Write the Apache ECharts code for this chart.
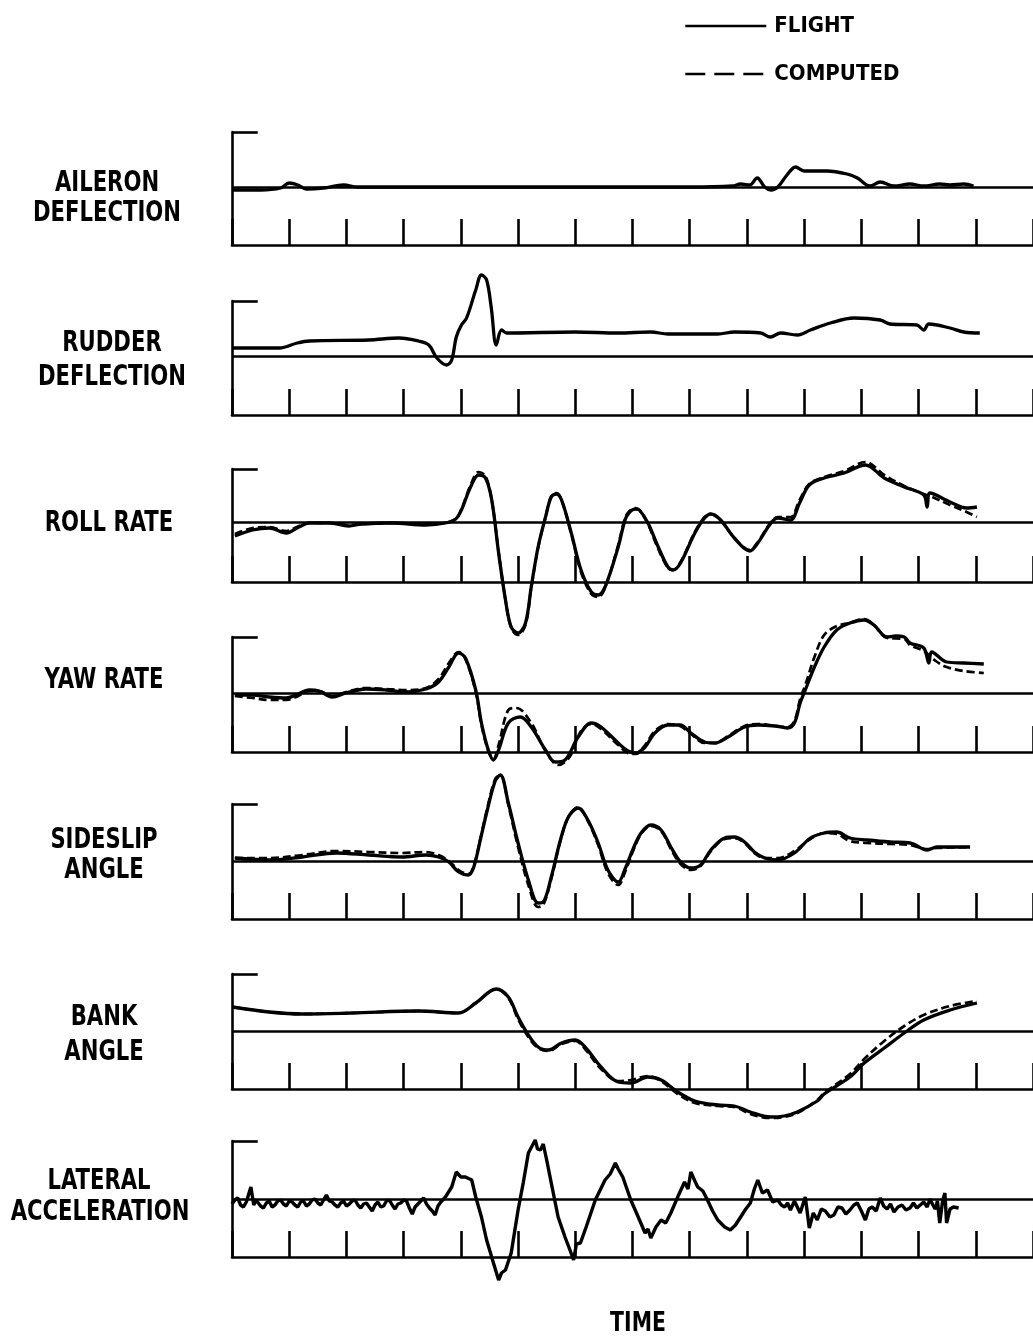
<!DOCTYPE html>
<html><head><meta charset="utf-8">
<script src="https://cdn.jsdelivr.net/npm/echarts@6/dist/echarts.min.js"></script>
<style>html,body{margin:0;padding:0;background:#fff}#c{width:1033px;height:1342px}</style>
</head><body><div id="c"></div>
<script>
// ---------------- DATA (time in tick units, value in plot units; 0 = trim line) ----------------
const panelLabels = [
  ['AILERON', 'DEFLECTION'],
  ['RUDDER', 'DEFLECTION'],
  ['ROLL RATE'],
  ['YAW RATE'],
  ['SIDESLIP', 'ANGLE'],
  ['BANK', 'ANGLE'],
  ['LATERAL', 'ACCELERATION']
];
const legendNames = ['FLIGHT', 'COMPUTED'];
const xAxisLabel = 'TIME';
const timeMin = 0, timeMax = 14, timeStep = 1;
const yRanges = [[-58, 55], [-59, 55], [-60, 53], [-59, 56], [-58, 57], [-58, 57], [-58, 58]];

const aileronFlight = [[0,-3],[0.5,-3],[0.85,-1],[1.0,4],[1.15,2],[1.3,-2],[1.6,-1],[1.95,2],[2.2,0],[4,0],[6,0],[8,0],[8.75,1],[8.89,3],[9.05,2],[9.18,9],[9.31,0],[9.42,-3],[9.54,0],[9.7,12],[9.85,20],[10.0,16],[10.4,16],[10.75,13],[10.93,9],[11.15,1],[11.33,5],[11.57,1],[11.85,3],[12.09,1],[12.37,3],[12.55,2],[12.79,3],[12.96,1]];

const rudderFlight = [[0,8],[0.83,8],[1.14,13],[1.35,15],[2.39,16],[2.92,18],[3.26,15],[3.44,11],[3.58,-2],[3.75,-9],[3.84,-4],[3.92,19],[4.01,31],[4.1,38],[4.26,66],[4.36,81],[4.45,76],[4.53,49],[4.62,11],[4.71,26],[4.8,23],[6.0,24],[6.75,23],[7.32,24],[7.62,22],[8.49,22],[8.78,24],[9.24,23],[9.41,19],[9.59,23],[9.88,21],[10.11,26],[10.46,33],[10.87,38],[11.33,36],[11.5,32],[11.97,31],[12.09,26],[12.18,32],[12.55,28],[12.79,24],[13.07,23]];

const rollFlight = [[0.05,-14],[0.36,-8],[0.65,-6],[0.95,-11],[1.17,-5],[1.35,-1],[1.7,-1],[2.04,-4],[2.27,-2],[2.79,-1],[3.39,-3],[3.73,-1],[3.91,3],[4.01,12],[4.17,35],[4.31,47],[4.43,44],[4.54,22],[4.66,-31],[4.78,-78],[4.88,-105],[5.0,-111],[5.13,-101],[5.23,-65],[5.35,-25],[5.48,5],[5.58,25],[5.67,28],[5.76,22],[5.93,-11],[6.1,-48],[6.28,-70],[6.4,-73],[6.52,-65],[6.75,-25],[6.87,2],[6.95,10],[7.05,13],[7.12,12],[7.27,-1],[7.45,-25],[7.62,-45],[7.71,-48],[7.84,-41],[8.09,-11],[8.26,4],[8.37,8],[8.54,2],[8.78,-16],[9.05,-29],[9.19,-21],[9.42,-1],[9.54,4],[9.76,2],[9.92,19],[10.09,37],[10.35,44],[10.7,49],[11.07,57],[11.4,44],[11.75,35],[12.09,27],[12.15,15],[12.2,29],[12.55,20],[12.84,14],[13.02,15]];
const rollComputed = [[0.05,-12],[0.36,-6],[0.65,-5],[0.95,-9],[1.17,-4],[1.35,-1],[1.7,-1],[2.04,-3],[2.27,-2],[2.79,-1],[3.39,-2],[3.73,-1],[3.91,3],[4.01,13],[4.17,37],[4.31,50],[4.43,46],[4.54,22],[4.66,-30],[4.78,-78],[4.88,-106],[5.0,-113],[5.13,-103],[5.23,-66],[5.35,-26],[5.48,5],[5.58,26],[5.67,29],[5.76,22],[5.93,-12],[6.1,-50],[6.28,-72],[6.4,-75],[6.52,-66],[6.75,-23],[6.87,4],[6.95,11],[7.05,14],[7.12,12],[7.27,-2],[7.45,-27],[7.62,-46],[7.71,-48],[7.84,-40],[8.09,-10],[8.26,5],[8.37,8],[8.54,2],[8.78,-16],[9.05,-28],[9.19,-20],[9.42,0],[9.54,5],[9.76,5],[9.92,22],[10.09,38],[10.35,45],[10.7,51],[11.07,60],[11.4,47],[11.75,36],[12.09,28],[12.2,26],[12.55,17],[12.84,10],[13.02,5]];

const yawFlight = [[0.05,-2],[0.36,-2],[0.65,-4],[0.95,-5],[1.12,-2],[1.35,3],[1.52,2],[1.75,-4],[1.99,0],[2.34,4],[2.69,3],[3.04,1],[3.39,4],[3.61,11],[3.79,26],[3.96,40],[4.08,35],[4.26,3],[4.36,-30],[4.48,-57],[4.57,-67],[4.66,-57],[4.83,-30],[5.04,-24],[5.23,-34],[5.48,-57],[5.65,-69],[5.82,-67],[6.05,-44],[6.28,-30],[6.45,-34],[6.75,-50],[6.92,-58],[7.06,-60],[7.22,-54],[7.39,-40],[7.62,-32],[7.83,-32],[8.02,-40],[8.26,-49],[8.44,-50],[8.67,-44],[8.96,-34],[9.19,-32],[9.49,-33],[9.71,-35],[9.83,-30],[9.93,-10],[10.02,3],[10.18,26],[10.35,46],[10.57,63],[10.8,70],[11.05,73],[11.22,68],[11.45,56],[11.6,57],[11.75,56],[11.85,50],[12.09,45],[12.18,30],[12.23,41],[12.49,31],[12.79,30],[13.14,29]];
const yawComputed = [[0.05,-3],[0.36,-5],[0.65,-7],[0.95,-7],[1.12,-4],[1.35,2],[1.52,2],[1.75,-3],[1.99,1],[2.34,5],[2.69,4],[3.04,3],[3.39,5],[3.61,14],[3.79,30],[3.96,41],[4.08,34],[4.26,1],[4.36,-32],[4.48,-58],[4.57,-66],[4.66,-52],[4.83,-17],[4.97,-15],[5.23,-30],[5.48,-58],[5.7,-72],[5.9,-64],[6.1,-38],[6.28,-31],[6.45,-36],[6.75,-52],[6.92,-60],[7.06,-61],[7.22,-52],[7.39,-38],[7.62,-31],[7.83,-33],[8.02,-41],[8.26,-50],[8.44,-50],[8.67,-43],[8.96,-33],[9.19,-31],[9.49,-33],[9.71,-34],[9.83,-28],[9.93,-6],[10.02,8],[10.18,36],[10.35,58],[10.57,67],[10.8,70],[11.05,74],[11.22,68],[11.45,55],[11.75,54],[11.85,48],[12.09,42],[12.3,32],[12.49,26],[12.79,22],[13.14,20]];

const sideslipFlight = [[0.05,3],[0.65,1],[1.23,4],[1.82,8],[2.39,6],[2.97,4],[3.39,6],[3.61,4],[3.79,-1],[3.96,-11],[4.13,-14],[4.22,-7],[4.34,21],[4.45,48],[4.6,80],[4.69,86],[4.83,58],[5.0,18],[5.18,-19],[5.35,-42],[5.44,-41],[5.58,-16],[5.74,21],[5.88,44],[6.05,53],[6.22,41],[6.4,18],[6.57,-9],[6.75,-21],[6.87,-8],[7.01,12],[7.15,28],[7.32,36],[7.5,31],[7.67,14],[7.84,-1],[8.02,-7],[8.19,-4],[8.37,11],[8.61,23],[8.78,24],[8.96,19],[9.13,9],[9.31,3],[9.54,1],[9.83,8],[10.11,23],[10.35,28],[10.57,29],[10.8,23],[11.1,21],[11.5,19],[11.85,18],[12.15,11],[12.32,14],[12.9,14]];
const sideslipComputed = [[0.05,3],[0.65,3],[1.23,6],[1.82,10],[2.39,9],[2.97,8],[3.39,9],[3.61,6],[3.79,0],[3.96,-9],[4.13,-13],[4.22,-6],[4.34,22],[4.45,50],[4.6,82],[4.69,86],[4.83,56],[5.0,14],[5.18,-24],[5.35,-46],[5.44,-44],[5.58,-18],[5.74,20],[5.88,44],[6.05,54],[6.22,40],[6.4,16],[6.57,-12],[6.75,-24],[6.87,-11],[7.01,10],[7.15,27],[7.32,35],[7.5,30],[7.67,12],[7.84,-3],[8.02,-9],[8.19,-5],[8.37,10],[8.61,22],[8.78,23],[8.96,18],[9.13,8],[9.31,3],[9.54,3],[9.83,10],[10.11,22],[10.35,28],[10.57,27],[10.8,20],[11.1,18],[11.5,17],[11.85,16],[12.15,12],[12.32,13],[12.9,14]];

const bankFlight = [[0.01,24],[0.65,19],[1.23,17],[2.1,18],[3.26,20],[3.96,18],[4.26,28],[4.62,42],[4.83,34],[5.0,14],[5.18,-4],[5.35,-16],[5.53,-19],[5.76,-12],[6.0,-9],[6.17,-16],[6.45,-36],[6.75,-51],[6.97,-52],[7.27,-46],[7.5,-49],[7.79,-61],[8.09,-70],[8.49,-74],[8.78,-75],[9.06,-81],[9.41,-86],[9.65,-85],[9.88,-81],[10.23,-70],[10.35,-63],[10.8,-46],[11.05,-32],[11.4,-17],[11.75,-2],[12.09,11],[12.55,21],[13.02,28]];
const bankComputed = [[0.01,24],[0.65,19],[1.23,17],[2.1,18],[3.26,20],[3.96,18],[4.26,28],[4.62,42],[4.83,33],[5.0,12],[5.18,-6],[5.35,-17],[5.53,-20],[5.76,-13],[6.0,-10],[6.17,-18],[6.45,-38],[6.75,-50],[6.97,-49],[7.27,-45],[7.5,-50],[7.79,-63],[8.09,-72],[8.49,-75],[8.78,-76],[9.06,-83],[9.41,-87],[9.65,-86],[9.88,-82],[10.23,-69],[10.35,-62],[10.8,-43],[11.05,-28],[11.4,-10],[11.75,5],[12.09,16],[12.55,25],[13.02,30]];

const lateralFlight = [[0,-5],[0.05,-1],[0.1,1],[0.15,-6],[0.2,-8],[0.25,-3],[0.28,-2],[0.33,12],[0.38,-6],[0.42,-1],[0.45,-3],[0.5,-7],[0.55,-9],[0.6,-4],[0.65,-2],[0.7,-8],[0.75,-6],[0.8,-2],[0.85,-1],[0.9,-5],[0.95,-7],[1.0,-2],[1.05,-3],[1.1,-6],[1.15,-8],[1.2,-3],[1.25,-2],[1.3,-7],[1.35,-5],[1.4,-1],[1.45,0],[1.5,-4],[1.55,-6],[1.6,-1],[1.65,4],[1.7,-2],[1.75,-3],[1.8,-6],[1.85,-8],[1.9,-4],[1.95,-2],[2.0,-7],[2.05,-5],[2.1,-2],[2.15,-1],[2.2,-6],[2.25,-9],[2.3,-5],[2.35,-4],[2.4,-8],[2.45,-12],[2.5,-6],[2.55,-3],[2.6,-8],[2.65,-7],[2.7,-2],[2.75,-1],[2.8,-6],[2.85,-10],[2.9,-5],[2.95,-4],[3.0,-1],[3.05,-2],[3.1,-9],[3.15,-15],[3.2,-8],[3.25,-5],[3.3,-2],[3.35,1],[3.4,-5],[3.45,-9],[3.5,-12],[3.55,-16],[3.6,-7],[3.65,-3],[3.73,2],[3.84,12],[3.92,27],[4.0,22],[4.08,22],[4.19,19],[4.26,2],[4.36,-18],[4.45,-41],[4.57,-64],[4.66,-81],[4.71,-74],[4.78,-71],[4.88,-54],[5.0,-11],[5.09,16],[5.18,46],[5.3,59],[5.34,50],[5.39,49],[5.44,55],[5.5,39],[5.58,16],[5.7,-18],[5.82,-38],[5.9,-50],[5.97,-61],[6.02,-45],[6.09,-44],[6.19,-28],[6.35,-1],[6.52,19],[6.61,25],[6.7,36],[6.75,30],[6.83,22],[6.97,-1],[7.1,-18],[7.22,-34],[7.27,-30],[7.32,-39],[7.41,-28],[7.5,-21],[7.58,-24],[7.67,-14],[7.79,2],[7.91,17],[7.97,10],[8.02,27],[8.09,18],[8.14,12],[8.23,8],[8.31,-1],[8.4,-12],[8.49,-21],[8.61,-28],[8.71,-31],[8.8,-26],[8.89,-18],[8.98,-10],[9.06,-4],[9.13,10],[9.19,19],[9.27,6],[9.36,9],[9.45,-3],[9.54,-1],[9.6,-6],[9.66,-8],[9.71,-4],[9.76,-11],[9.83,-2],[9.88,-8],[9.93,-14],[10.02,2],[10.09,-29],[10.16,-14],[10.23,-21],[10.3,-10],[10.37,-12],[10.45,-18],[10.52,-16],[10.59,-8],[10.66,-9],[10.73,-15],[10.8,-11],[10.87,-6],[10.93,-4],[11.0,-12],[11.07,-21],[11.13,-10],[11.19,-8],[11.26,-12],[11.33,1],[11.39,-7],[11.45,-10],[11.51,-5],[11.57,-13],[11.64,-8],[11.71,-6],[11.78,-11],[11.85,-9],[11.91,-4],[11.97,-9],[12.03,-6],[12.09,-3],[12.15,-8],[12.2,0],[12.25,-6],[12.29,-10],[12.33,-2],[12.37,-24],[12.42,-2],[12.46,6],[12.49,-24],[12.55,-10],[12.61,-8],[12.7,-9]];

const flightSeries = [aileronFlight, rudderFlight, rollFlight, yawFlight, sideslipFlight, bankFlight, lateralFlight];
const computedSeries = [null, null, rollComputed, yawComputed, sideslipComputed, bankComputed, null];

// ---------------- LAYOUT ----------------
const gridLeft = 232, gridWidth = 804;
const gridTops = [132, 301, 469, 637, 804, 974, 1141];
const labelLayout = [
  [[107, 184], [107, 214]],
  [[112, 344], [112, 378]],
  [[109, 524]],
  [[104, 681]],
  [[104, 841], [104, 871]],
  [[104, 1018], [104, 1053]],
  [[99, 1182], [100, 1213]]
];
const FONT = "'DejaVu Sans Condensed','Liberation Sans Narrow',sans-serif";
const AX = {color: '#000', width: 2.6};

const grids = [], xAxes = [], yAxes = [], series = [], graphics = [];
flightSeries.forEach((fd, i) => {
  const [ymin, ymax] = yRanges[i];
  grids.push({left: gridLeft, top: gridTops[i], width: gridWidth, height: ymax - ymin});
  xAxes.push({type: 'value', gridIndex: i, min: timeMin, max: timeMax, interval: timeStep,
    axisLine: {show: true, onZero: false, lineStyle: AX},
    axisTick: {show: true, inside: true, length: 26, lineStyle: AX},
    axisLabel: {show: false}, splitLine: {show: false}});
  yAxes.push({type: 'value', gridIndex: i, min: ymin, max: ymax,
    axisLine: {show: true, onZero: false, lineStyle: AX},
    axisTick: {show: false}, axisLabel: {show: false}, splitLine: {show: false}});
  series.push({type: 'line', name: legendNames[0], xAxisIndex: i, yAxisIndex: i, data: fd,
    symbol: 'none', smooth: i === 6 ? false : 0.35, clip: false, silent: true,
    color: '#000', itemStyle: {color: '#000'},
    lineStyle: {color: '#000', width: i === 6 ? 3.4 : 3.3}, z: 3,
    markLine: {silent: true, symbol: ['none', 'none'], label: {show: false},
      lineStyle: {color: '#000', width: 2.6, type: 'solid'},
      emphasis: {disabled: true},
      data: [{yAxis: 0}, [{coord: [timeMin, ymax]}, {coord: [0.45, ymax]}]]}});
  if (computedSeries[i]) {
    series.push({type: 'line', name: legendNames[1], xAxisIndex: i, yAxisIndex: i, data: computedSeries[i],
      symbol: 'none', smooth: 0.35, clip: false, silent: true, z: 4,
      color: '#000', itemStyle: {color: '#000'},
      lineStyle: {color: '#000', width: 2.7, type: [8, 4]}});
  }
  panelLabels[i].forEach((t, j) => {
    graphics.push({type: 'text', silent: true, x: labelLayout[i][j][0], y: labelLayout[i][j][1], scaleX: 0.84,
      style: {text: t, x: 0, y: 0, textAlign: 'center', textVerticalAlign: 'middle', fill: '#000',
      font: 'bold 28px ' + FONT}});
  });
});
graphics.push({type: 'text', silent: true, x: 638, y: 1324, scaleX: 0.84,
  style: {text: xAxisLabel, x: 0, y: 0, textAlign: 'center',
  textVerticalAlign: 'middle', fill: '#000', font: 'bold 27px ' + FONT}});

const chart = echarts.init(document.getElementById('c'), null, {renderer: 'canvas'});
chart.setOption({
  backgroundColor: '#fff',
  animation: false,
  legend: {
    orient: 'vertical', left: 679, top: 8, itemWidth: 81, itemHeight: 14, itemGap: 22,
    selectedMode: false,
    itemStyle: {opacity: 0},
    textStyle: {color: '#000', fontFamily: FONT, fontWeight: 'bold', fontSize: 22, lineHeight: 26, padding: [0, 0, 0, 3]},
    data: [{name: legendNames[0], itemStyle: {opacity: 0}, lineStyle: {type: 'solid', width: 2.6, color: '#000'}},
           {name: legendNames[1], itemStyle: {opacity: 0}, lineStyle: {type: [20, 9], width: 2.6, color: '#000'}}]
  },
  grid: grids, xAxis: xAxes, yAxis: yAxes, series: series, graphic: graphics
});
</script></body></html>
